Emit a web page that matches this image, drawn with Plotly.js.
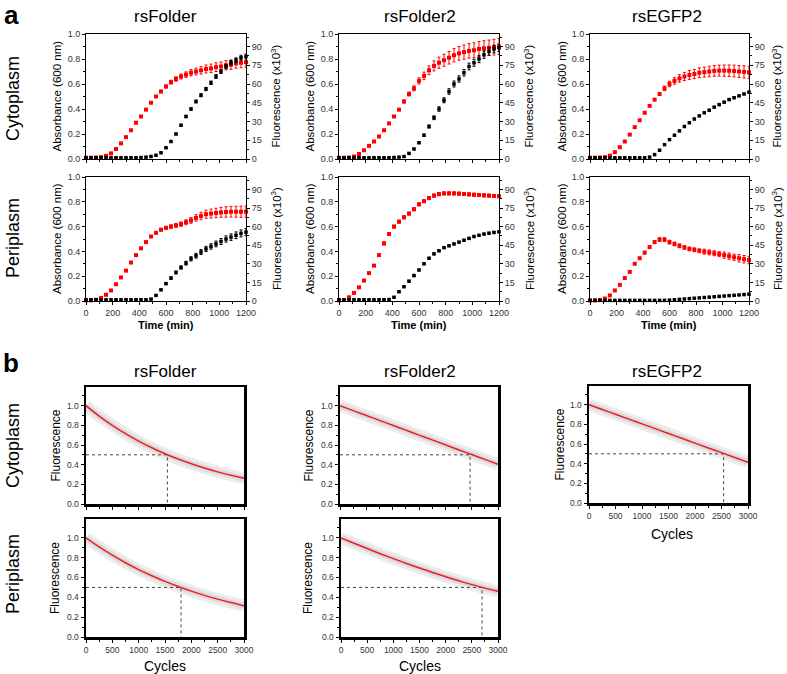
<!DOCTYPE html>
<html><head><meta charset="utf-8">
<script src="https://cdn.plot.ly/plotly-3.0.1.min.js"></script>
<style>html,body{margin:0;padding:0;background:#fff}#chart{width:787px;height:674px}</style>
</head><body><div id="chart"></div>
<script>
// ---------- Panel a data (time in min; absorbance 600 nm; fluorescence x10^3) ----------
const timeMin = [0,37.5,75,112.5,150,187.5,225,262.5,300,337.5,375,412.5,450,487.5,525,562.5,600,637.5,675,712.5,750,787.5,825,862.5,900,937.5,975,1012.5,1050,1087.5,1125,1162.5,1200];

const absCytoFolder = [0.01,0.01,0.012,0.015,0.025,0.045,0.08,0.125,0.175,0.23,0.29,0.34,0.395,0.45,0.50,0.54,0.58,0.615,0.64,0.66,0.675,0.69,0.70,0.71,0.72,0.725,0.735,0.74,0.75,0.755,0.765,0.77,0.775];
const absErrCytoFolder = [0.005,0.005,0.005,0.005,0.005,0.005,0.005,0.005,0.005,0.005,0.005,0.005,0.005,0.005,0.008,0.01,0.012,0.015,0.018,0.02,0.022,0.025,0.027,0.03,0.032,0.034,0.035,0.036,0.037,0.038,0.039,0.04,0.04];
const fluoCytoFolder = [1,1,1,1,1,1,1,1,1,1,1,1.2,1.5,2,3,5,9,14,20,27,34,40,46,51,56,61,66,70,74,77,79,81,82];
const fluoErrCytoFolder = [0.3,0.3,0.3,0.3,0.3,0.3,0.3,0.3,0.3,0.3,0.3,0.3,0.3,0.3,0.3,0.3,0.3,0.3,0.5,0.7,0.9,1.0,1.1,1.2,1.3,1.4,1.5,1.6,1.7,1.8,1.9,2.0,2.0];

const absCytoFolder2 = [0.01,0.01,0.012,0.02,0.04,0.07,0.105,0.14,0.18,0.23,0.285,0.34,0.395,0.46,0.52,0.565,0.625,0.665,0.71,0.745,0.77,0.79,0.81,0.83,0.845,0.855,0.865,0.87,0.88,0.885,0.89,0.895,0.90];
const absErrCytoFolder2 = [0.005,0.005,0.005,0.005,0.005,0.005,0.005,0.005,0.005,0.005,0.005,0.005,0.008,0.012,0.016,0.02,0.025,0.03,0.035,0.04,0.045,0.048,0.05,0.053,0.055,0.057,0.058,0.06,0.06,0.061,0.062,0.063,0.064];
const fluoCytoFolder2 = [1,1,1,1,1,1,1,1,1,1,1,1.2,1.5,2,4.5,8,13,19,26,33,40,47,54,60,64,69,74,77,80,83.5,86,88,89];
const fluoErrCytoFolder2 = [0.3,0.3,0.3,0.3,0.3,0.3,0.3,0.3,0.3,0.3,0.3,0.3,0.3,0.3,0.3,0.3,0.6,0.9,1.2,1.5,1.8,2.0,2.2,2.4,2.5,2.6,2.7,2.8,2.9,3.0,3.0,3.0,3.0];

const absCytoEGFP2 = [0.01,0.01,0.012,0.015,0.027,0.055,0.095,0.14,0.195,0.255,0.31,0.37,0.425,0.475,0.52,0.565,0.60,0.625,0.645,0.66,0.672,0.68,0.69,0.695,0.70,0.705,0.707,0.707,0.706,0.704,0.70,0.697,0.693];
const absErrCytoEGFP2 = [0.005,0.005,0.005,0.005,0.005,0.005,0.005,0.005,0.005,0.005,0.005,0.005,0.005,0.008,0.012,0.018,0.022,0.026,0.03,0.033,0.035,0.037,0.039,0.04,0.042,0.043,0.044,0.045,0.046,0.047,0.048,0.049,0.05];
const fluoCytoEGFP2 = [1,1,1,1,1,1,1,1,1,1,1,1,1.5,3.5,7,11.5,15.5,19,22.5,26,29,32,34.5,37,39,41.5,43.5,45.5,47.5,49,50.5,52,53.5];
const fluoErrCytoEGFP2 = [0.3,0.3,0.3,0.3,0.3,0.3,0.3,0.3,0.3,0.3,0.3,0.3,0.3,0.3,0.3,0.3,0.3,0.3,0.3,0.3,0.5,0.5,0.5,0.5,0.5,0.5,0.5,0.5,0.5,0.5,0.5,0.5,0.5];

const absPeriFolder = [0.005,0.005,0.01,0.025,0.05,0.085,0.135,0.19,0.245,0.31,0.37,0.425,0.475,0.52,0.55,0.575,0.59,0.60,0.61,0.62,0.635,0.65,0.67,0.685,0.70,0.705,0.71,0.715,0.718,0.72,0.72,0.72,0.72];
const absErrPeriFolder = [0.005,0.005,0.005,0.005,0.005,0.005,0.005,0.005,0.005,0.005,0.005,0.005,0.005,0.005,0.008,0.01,0.012,0.014,0.016,0.018,0.02,0.023,0.026,0.03,0.033,0.036,0.038,0.04,0.042,0.043,0.044,0.045,0.045];
const fluoPeriFolder = [1,1,1,1,1,1,1,1,1,1,1,1,1,1.5,4.5,9,14,18.5,23,27,30.5,34,36.5,39.5,42,44,46,48,50,51.5,53,54.5,55.5];
const fluoErrPeriFolder = [0.3,0.3,0.3,0.3,0.3,0.3,0.3,0.3,0.3,0.3,0.3,0.3,0.3,0.3,0.3,0.3,0.6,0.9,1.1,1.3,1.5,1.7,1.9,2.0,2.1,2.2,2.3,2.4,2.5,2.6,2.7,2.8,2.9];

const absPeriFolder2 = [0.005,0.008,0.03,0.065,0.11,0.165,0.225,0.285,0.37,0.465,0.54,0.60,0.64,0.675,0.705,0.74,0.78,0.805,0.83,0.85,0.862,0.868,0.868,0.868,0.866,0.863,0.86,0.857,0.855,0.852,0.85,0.847,0.845];
const absErrPeriFolder2 = [0.005,0.005,0.005,0.005,0.005,0.005,0.005,0.005,0.005,0.012,0.012,0.012,0.012,0.012,0.012,0.012,0.012,0.012,0.012,0.012,0.012,0.012,0.012,0.012,0.012,0.012,0.012,0.012,0.012,0.012,0.012,0.012,0.012];
const fluoPeriFolder2 = [1,1,1,1,1,1,1,1,1,1,1.2,3,7.5,11.5,16,20.5,25,30,34.5,38,40.5,43,44.5,46,47.5,49,50.5,52,53,54,54.7,55.3,55.8];
const fluoErrPeriFolder2 = [0.3,0.3,0.3,0.3,0.3,0.3,0.3,0.3,0.3,0.3,0.3,0.6,0.6,0.6,0.6,0.6,0.6,0.6,0.6,0.6,0.6,0.6,0.6,0.6,0.6,0.6,0.6,0.6,0.6,0.6,0.6,0.6,0.6];

const absPeriEGFP2 = [0.005,0.005,0.008,0.02,0.045,0.085,0.13,0.185,0.235,0.30,0.345,0.39,0.435,0.475,0.495,0.495,0.475,0.46,0.445,0.432,0.42,0.413,0.405,0.398,0.392,0.385,0.378,0.37,0.362,0.353,0.345,0.337,0.33];
const absErrPeriEGFP2 = [0.005,0.005,0.005,0.005,0.005,0.005,0.005,0.005,0.005,0.005,0.005,0.01,0.01,0.01,0.015,0.015,0.015,0.015,0.015,0.015,0.015,0.015,0.015,0.02,0.02,0.02,0.02,0.025,0.025,0.025,0.03,0.03,0.03];
const fluoPeriEGFP2 = [0.5,0.5,0.5,0.5,0.5,0.5,0.5,0.5,0.5,0.5,0.5,0.5,0.5,0.5,0.5,0.5,0.7,1.0,1.3,1.6,1.9,2.2,2.5,2.8,3.1,3.4,3.7,4.0,4.3,4.6,4.9,5.2,5.5];
const fluoErrPeriEGFP2 = [0.3,0.3,0.3,0.3,0.3,0.3,0.3,0.3,0.3,0.3,0.3,0.3,0.3,0.3,0.3,0.3,0.3,0.3,0.3,0.3,0.3,0.3,0.3,0.3,0.3,0.3,0.3,0.3,0.3,0.3,0.3,0.3,0.3];

const timeTicks = [0,200,400,600,800,1000,1200];
const absTicks = [0,0.2,0.4,0.6,0.8,1.0];
const fluoTicks = [0,15,30,45,60,75,90];

// ---------- Panel b data (switching cycles; normalised fluorescence) ----------
const cycles = [0,250,500,750,1000,1250,1500,1750,2000,2250,2500,2750,3000];
const decayCytoFolder  = [1.0,0.894,0.800,0.715,0.639,0.572,0.511,0.457,0.409,0.366,0.327,0.292,0.261];
const decayCytoFolder2 = [1.0,0.950,0.900,0.851,0.801,0.751,0.701,0.652,0.602,0.552,0.503,0.454,0.405];
const decayCytoEGFP2   = [1.0,0.951,0.902,0.853,0.805,0.756,0.707,0.658,0.609,0.560,0.512,0.463,0.414];
const decayPeriFolder  = [1.0,0.908,0.825,0.749,0.680,0.618,0.561,0.510,0.463,0.420,0.382,0.347,0.315];
const decayPeriFolder2 = [1.0,0.945,0.892,0.840,0.790,0.742,0.696,0.651,0.608,0.567,0.528,0.493,0.460];
const halfCycles = [1545, 2470, 2540, 1805, 2695];
const halfLevel = 0.5;
const cycleTicks = [0,500,1000,1500,2000,2500,3000];
const normTicks = [0,0.2,0.4,0.6,0.8,1.0];

const columnNames = ['rsFolder','rsFolder2','rsEGFP2'];
const compartments = ['Cytoplasm','Periplasm'];

// ---------- build ----------
const W = 787, H = 674;
const px = v => v / W;
const py = v => 1 - v / H;
const FONT = 'Liberation Sans, Arial, Helvetica, sans-serif';
const traces = [];
const layout = {
  width: W, height: H, margin: {l:0, r:0, t:0, b:0}, showlegend: false,
  paper_bgcolor: '#fff', plot_bgcolor: 'rgba(0,0,0,0)',
  font: {family: FONT, color: '#222'}, annotations: []
};

const panelsA = [
  {abs:absCytoFolder, absErr:absErrCytoFolder, fluo:fluoCytoFolder, fluoErr:fluoErrCytoFolder, box:[86,246,34,159], xl:false},
  {abs:absCytoFolder2, absErr:absErrCytoFolder2, fluo:fluoCytoFolder2, fluoErr:fluoErrCytoFolder2, box:[339,499,34,159], xl:false},
  {abs:absCytoEGFP2, absErr:absErrCytoEGFP2, fluo:fluoCytoEGFP2, fluoErr:fluoErrCytoEGFP2, box:[590,749,34,159], xl:false},
  {abs:absPeriFolder, absErr:absErrPeriFolder, fluo:fluoPeriFolder, fluoErr:fluoErrPeriFolder, box:[86,246,177,301], xl:true},
  {abs:absPeriFolder2, absErr:absErrPeriFolder2, fluo:fluoPeriFolder2, fluoErr:fluoErrPeriFolder2, box:[339,499,177,301], xl:true},
  {abs:absPeriEGFP2, absErr:absErrPeriEGFP2, fluo:fluoPeriEGFP2, fluoErr:fluoErrPeriEGFP2, box:[590,749,177,301], xl:true}
];

const tickFontA = {size: 9, color: '#333', family: FONT};
panelsA.forEach((p, i) => {
  const n = i + 1, m = i + 7;
  const [l, r, t, b] = p.box;
  traces.push({type:'scatter', mode:'markers', x: timeMin, y: p.abs, xaxis:'x'+n, yaxis:'y'+n, cliponaxis:false,
    marker:{symbol:'square', size:4, color:'#ff0000'},
    error_y:{type:'data', array:p.absErr, visible:true, color:'#ff0000', thickness:1, width:1.5}});
  traces.push({type:'scatter', mode:'markers', x: timeMin, y: p.fluo, xaxis:'x'+n, yaxis:'y'+m, cliponaxis:false,
    marker:{symbol:'square', size:3.5, color:'#000'},
    error_y:{type:'data', array:p.fluoErr, visible:true, color:'#000', thickness:1, width:1.5}});
  layout['xaxis'+n] = {domain:[px(l), px(r)], anchor:'y'+n, range:[0,1200], tickvals: timeTicks,
    ticks:'outside', ticklen:3, tickwidth:1, tickcolor:'#000', minor:{dtick:100, ticklen:2, ticks:'outside', tickcolor:'#000'},
    showline:true, linecolor:'#000', linewidth:1, mirror:true, showgrid:false, zeroline:false,
    showticklabels:p.xl, tickfont:tickFontA, fixedrange:true};
  layout['yaxis'+n] = {domain:[py(b), py(t)], anchor:'x'+n, range:[0,1], tickvals: absTicks, tickformat:'.1f',
    ticks:'outside', ticklen:3, tickwidth:1, tickcolor:'#000', minor:{dtick:0.1, ticklen:2, ticks:'outside', tickcolor:'#000'},
    showline:true, linecolor:'#000', linewidth:1, showgrid:false, zeroline:false, tickfont:tickFontA, fixedrange:true};
  layout['yaxis'+m] = {overlaying:'y'+n, side:'right', anchor:'x'+n, range:[0,100], tickvals: fluoTicks,
    ticks:'outside', ticklen:3, tickwidth:1, tickcolor:'#000', minor:{dtick:7.5, ticklen:2, ticks:'outside', tickcolor:'#000'},
    showline:true, linecolor:'#000', linewidth:1, showgrid:false, zeroline:false, tickfont:tickFontA, fixedrange:true};
});

const panelsB = [
  {curve:decayCytoFolder, half:halfCycles[0], box:[86,244,387,504], xl:false},
  {curve:decayCytoFolder2, half:halfCycles[1], box:[340,498,387,504], xl:false},
  {curve:decayCytoEGFP2, half:halfCycles[2], box:[589,748,386,503], xl:true},
  {curve:decayPeriFolder, half:halfCycles[3], box:[86,244,519,637], xl:true},
  {curve:decayPeriFolder2, half:halfCycles[4], box:[341,498,519,637], xl:true}
];
const tickFontB = {size: 8.5, color: '#333', family: FONT};
panelsB.forEach((p, j) => {
  const n = j + 7, m = j + 13;
  const [l, r, t, b] = p.box;
  traces.push({type:'scatter', mode:'lines', x: cycles, y: p.curve, xaxis:'x'+n, yaxis:'y'+m,
    line:{color:'rgba(170,170,170,0.22)', width:12, shape:'spline'}});
  traces.push({type:'scatter', mode:'lines', x: cycles, y: p.curve, xaxis:'x'+n, yaxis:'y'+m,
    line:{color:'rgba(160,160,160,0.22)', width:6, shape:'spline'}});
  traces.push({type:'scatter', mode:'lines', x:[0, p.half, p.half], y:[halfLevel, halfLevel, 0], xaxis:'x'+n, yaxis:'y'+m,
    line:{color:'#444', width:1, dash:'dot'}});
  traces.push({type:'scatter', mode:'lines', x: cycles, y: p.curve, xaxis:'x'+n, yaxis:'y'+m,
    line:{color:'#ee1c24', width:1.5, shape:'spline'}});
  layout['xaxis'+n] = {domain:[px(l), px(r)], anchor:'y'+m, range:[0,3000], tickvals: cycleTicks,
    ticks:'outside', ticklen:3, tickwidth:1, tickcolor:'#000', minor:{dtick:250, ticklen:2, ticks:'outside', tickcolor:'#000'},
    showline:true, linecolor:'#000', linewidth:2.5, mirror:true, showgrid:false, zeroline:false,
    showticklabels:p.xl, tickfont:tickFontB, fixedrange:true};
  layout['yaxis'+m] = {domain:[py(b), py(t)], anchor:'x'+n, range:[0,1.19], tickvals: normTicks, tickformat:'.1f',
    ticks:'outside', ticklen:3, tickwidth:1, tickcolor:'#000', minor:{dtick:0.1, ticklen:2, ticks:'outside', tickcolor:'#000'},
    showline:true, linecolor:'#000', linewidth:2.5, mirror:true, showgrid:false, zeroline:false, tickfont:tickFontB, fixedrange:true};
});

// ---------- text ----------
function ann(text, x, y, size, extra) {
  layout.annotations.push(Object.assign({text, xref:'paper', yref:'paper', x:px(x), y:py(y), showarrow:false,
    xanchor:'center', yanchor:'middle', font:{size, color:'#000', family:FONT}}, extra || {}));
}
ann('<b>a</b>', 11, 15, 26);
ann('<b>b</b>', 11, 363, 26);
const colA = [165, 420, 667];
columnNames.forEach((c, k) => { ann(c, colA[k], 16, 17); ann(c, colA[k], 371, 17); });
ann(compartments[0], 13, 99, 18, {textangle:-90});
ann(compartments[1], 13, 238, 18, {textangle:-90});
ann(compartments[0], 13, 446, 18, {textangle:-90});
ann(compartments[1], 13, 574, 18, {textangle:-90});

const absTitleX = [57, 310, 562];
const fluoTitleX = [276, 529, 777];
[96.5, 239].forEach(yc => {
  absTitleX.forEach(x => ann('Absorbance (600 nm)', x, yc, 11.5, {textangle:-90}));
  fluoTitleX.forEach(x => ann('Fluorescence (x10<sup>3</sup>)', x, yc, 11.5, {textangle:-90}));
});
[166, 419, 669].forEach(x => ann('<b>Time (min)</b>', x, 325, 11));

[[55,445.5],[308,445.5],[559,444.5],[55,578],[308,578]].forEach(([x,y]) => ann('Fluorescence', x, y, 12, {textangle:-90}));
ann('Cycles', 672, 534, 14);
ann('Cycles', 165, 666, 14);
ann('Cycles', 420, 666, 14);

Plotly.newPlot('chart', traces, layout, {staticPlot:true, displayModeBar:false});
</script>
</body></html>
